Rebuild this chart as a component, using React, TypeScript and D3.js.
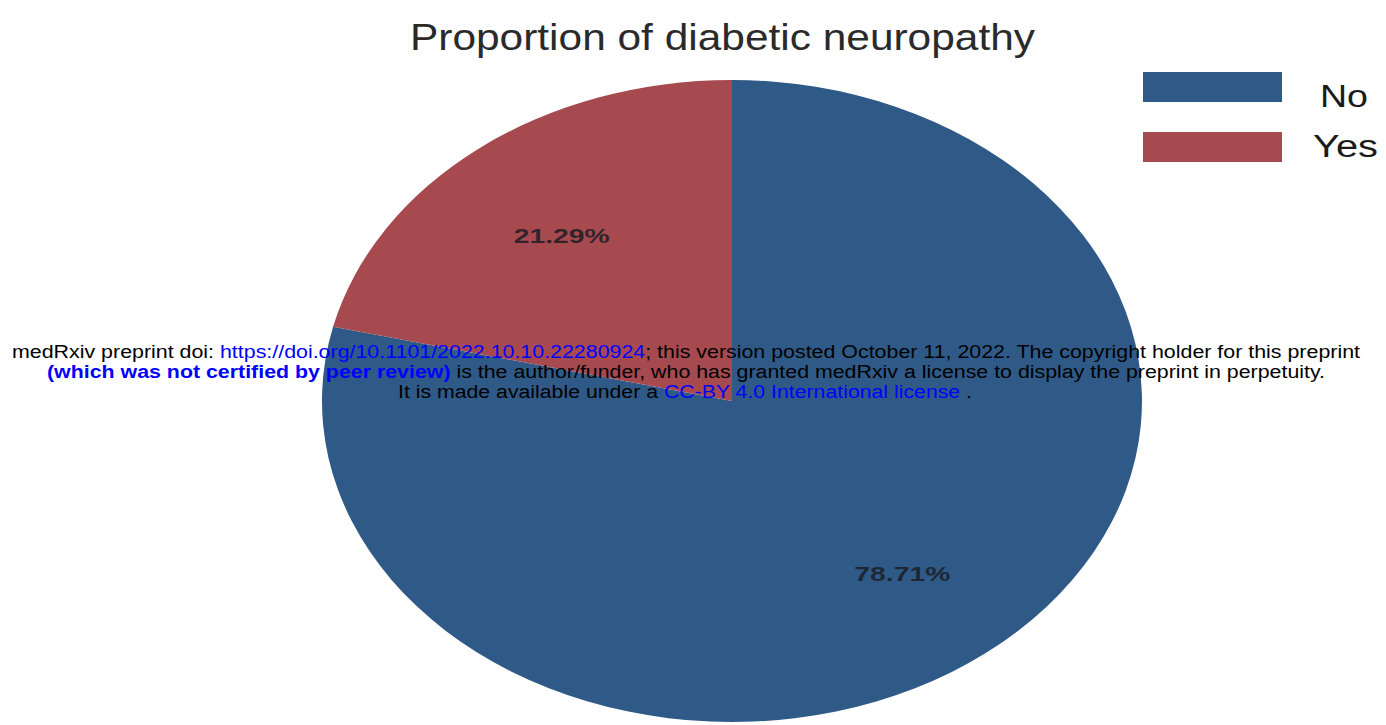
import { useEffect, useRef } from 'react';
import * as d3 from 'd3';

// data
const categories = ['No', 'Yes'];
const shares = [78.71, 21.29];
const colors = ['#2f5a87', '#a64a50'];

const titleText = 'Proportion of diabetic neuropathy';

export default function App() {
  const ref = useRef<SVGSVGElement>(null);

  useEffect(() => {
    const width = 1386;
    const height = 725;
    const cx = 732;
    const cy = 401;
    const rx = 410;
    const ry = 321;

    const svg = d3.select(ref.current);
    svg.selectAll('*').remove();
    svg.attr('width', width).attr('height', height);

    const data = categories.map((c, i) => ({ name: c, value: shares[i] }));

    // pie on a unit circle, stretched into an ellipse
    const pie = d3.pie<{ name: string; value: number }>()
      .value(d => d.value)
      .sort(null);
    const arc = d3.arc<d3.PieArcDatum<{ name: string; value: number }>>()
      .innerRadius(0)
      .outerRadius(1);
    const labelArc = d3.arc<d3.PieArcDatum<{ name: string; value: number }>>()
      .innerRadius(0.67)
      .outerRadius(0.67);

    const arcs = pie(data);

    svg.append('g')
      .attr('transform', `translate(${cx},${cy}) scale(${rx},${ry})`)
      .selectAll('path')
      .data(arcs)
      .enter()
      .append('path')
      .attr('d', arc)
      .attr('fill', (d, i) => colors[i]);

    // slice labels, drawn wide like the original
    svg.append('g')
      .selectAll('text')
      .data(arcs)
      .enter()
      .append('text')
      .attr('x', d => cx + labelArc.centroid(d)[0] * rx - 48)
      .attr('y', d => cy + labelArc.centroid(d)[1] * ry + 11)
      .attr('textLength', 96)
      .attr('lengthAdjust', 'spacingAndGlyphs')
      .attr('font-family', 'Liberation Sans, Arial, sans-serif')
      .attr('font-size', 21)
      .attr('font-weight', 'bold')
      .attr('fill', '#1c1c24')
      .attr('fill-opacity', 0.85)
      .text(d => d.data.value.toFixed(2) + '%');

    // title
    svg.append('text')
      .attr('x', 410)
      .attr('y', 50)
      .attr('textLength', 625)
      .attr('lengthAdjust', 'spacingAndGlyphs')
      .attr('font-family', 'Liberation Sans, Arial, sans-serif')
      .attr('font-size', 37)
      .attr('fill', '#2a2a2a')
      .text(titleText);

    // legend
    const legendText = [
      { x: 1320, y: 107, len: 48 },
      { x: 1313, y: 157, len: 65 },
    ];
    categories.forEach((c, i) => {
      const y = 72 + i * 60;
      svg.append('rect')
        .attr('x', 1143)
        .attr('y', y)
        .attr('width', 139)
        .attr('height', 30)
        .attr('fill', colors[i]);
      svg.append('text')
        .attr('x', legendText[i].x)
        .attr('y', legendText[i].y)
        .attr('textLength', legendText[i].len)
        .attr('lengthAdjust', 'spacingAndGlyphs')
        .attr('font-family', 'Liberation Sans, Arial, sans-serif')
        .attr('font-size', 31)
        .attr('fill', '#1a1a1a')
        .text(c);
    });

    // medRxiv overlay
    const wm = svg.append('g')
      .attr('font-family', 'Liberation Sans, Arial, sans-serif')
      .attr('font-size', 18);
    const line1 = wm.append('text').attr('x', 12).attr('y', 358)
      .attr('textLength', 1348).attr('lengthAdjust', 'spacingAndGlyphs');
    line1.append('tspan').attr('fill', '#000').text('medRxiv preprint doi: ');
    line1.append('tspan').attr('fill', '#0000ff').text('https://doi.org/10.1101/2022.10.10.22280924');
    line1.append('tspan').attr('fill', '#000').text('; this version posted October 11, 2022. The copyright holder for this preprint');

    const line2 = wm.append('text').attr('x', 47).attr('y', 378)
      .attr('textLength', 1278).attr('lengthAdjust', 'spacingAndGlyphs');
    line2.append('tspan').attr('fill', '#0000ff').attr('font-weight', 'bold').text('(which was not certified by peer review)');
    line2.append('tspan').attr('fill', '#000').text(' is the author/funder, who has granted medRxiv a license to display the preprint in perpetuity.');

    const line3 = wm.append('text').attr('x', 398).attr('y', 398)
      .attr('textLength', 574).attr('lengthAdjust', 'spacingAndGlyphs');
    line3.append('tspan').attr('fill', '#000').text('It is made available under a ');
    line3.append('tspan').attr('fill', '#0000ff').text('CC-BY 4.0 International license');
    line3.append('tspan').attr('fill', '#000').text(' .');
  }, []);

  return (
    <div style={{ position: 'absolute', left: 0, top: 0 }}>
      <svg ref={ref}></svg>
    </div>
  );
}
